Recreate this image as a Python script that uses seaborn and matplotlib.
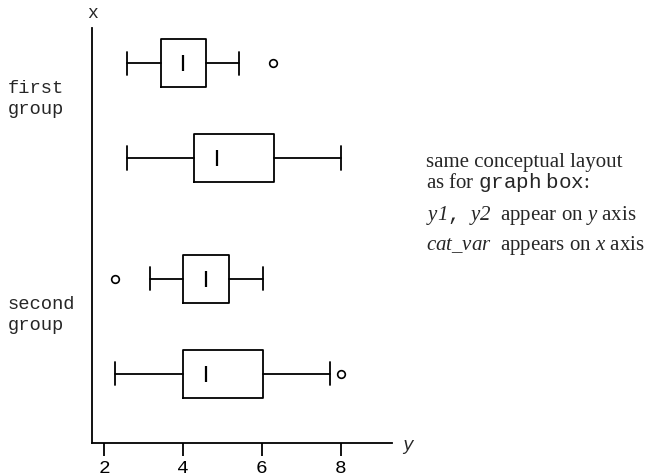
import matplotlib.pyplot as plt
import seaborn as sns


# groups on the categorical axis, two variables per group (y1 above y2)
groups = ["first\ngroup", "second\ngroup"]
variables = ["y1", "y2"]

# five-number summaries: [group][variable]
whislo = [[2.58, 2.58], [3.15, 2.27]]
q1 = [[3.44, 4.29], [4.00, 4.00]]
med = [[3.99, 4.87], [4.57, 4.57]]
q3 = [[4.57, 6.31], [5.16, 6.02]]
whishi = [[5.43, 8.00], [6.02, 7.72]]
fliers = [[[6.29], []], [[2.27], [8.00]]]

xticks = [2, 4, 6, 8]

note_lines = [
    "same conceptual layout",
    r"as for $\mathtt{graph\ box}$:",
    r"$y1\mathtt{,}\ \ y2$  appear on $y$ axis",
    r"$cat\_var$  appears on $x$ axis",
]

sns.set_style("ticks")
plt.rcParams['font.family'] = ['Liberation Serif', 'DejaVu Serif']
plt.rcParams['mathtext.fontset'] = 'custom'
# digits inside math use 'rm', so make it italic to get an italic y1, y2
plt.rcParams['mathtext.rm'] = 'Liberation Serif:italic'
plt.rcParams['mathtext.it'] = 'Liberation Serif:italic'
plt.rcParams['mathtext.tt'] = 'Liberation Mono'

fig = plt.figure(figsize=(6.5, 4.74), dpi=100)
ax = fig.add_axes([92 / 650, 31 / 474, 300 / 650, 415 / 474])

# layout of the categorical axis (bottom-up)
group_centers = [3.5, 1.23]
offsets = [0.5, -0.5]

stats = []
positions = []
for g in range(len(groups)):
    for v in range(len(variables)):
        stats.append({
            "label": variables[v],
            "whislo": whislo[g][v],
            "q1": q1[g][v],
            "med": med[g][v],
            "q3": q3[g][v],
            "whishi": whishi[g][v],
            "fliers": fliers[g][v],
        })
        positions.append(group_centers[g] + offsets[v])

lw = 1.3
ax.bxp(stats, positions=positions, orientation='horizontal',
       widths=0.505, capwidths=0.245, manage_ticks=False,
       boxprops=dict(color='black', linewidth=lw),
       whiskerprops=dict(color='black', linewidth=lw),
       capprops=dict(color='black', linewidth=lw),
       medianprops=dict(visible=False),
       flierprops=dict(marker='o', markersize=5.5, markerfacecolor='none',
                       markeredgecolor='black', markeredgewidth=1.2))

# Stata-style median: a short tick inside the box
for s, p in zip(stats, positions):
    ax.plot([s["med"]], [p], marker='|', markersize=12, markeredgewidth=1.6,
            color='black', linestyle='none')

ax.set_xlim(1.69, 9.30)
ax.set_ylim(0, 4.37)
ax.set_xticks(xticks)
ax.set_yticks([])
sns.despine(ax=ax)
for side in ['left', 'bottom']:
    ax.spines[side].set_linewidth(lw)
    ax.spines[side].set_color('black')
ax.tick_params(axis='x', length=9, width=lw, pad=3, labelsize=14,
               colors='black')
for lab in ax.get_xticklabels():
    lab.set_family('Liberation Mono')

# group labels, left edge of the figure
for g, name in enumerate(groups):
    yd = ax.transData.transform((0, group_centers[g] + 0.12))[1]
    fig.text(8 / 650, yd / fig.bbox.height, name, family='Liberation Mono',
             fontsize=13.5, ha='left', va='center', linespacing=1.35)

# axis titles
fig.text(93 / 650, 1 - 14 / 474, "x", family='Liberation Mono',
         fontsize=13, ha='center', va='center')
fig.text(408 / 650, 1 - 450 / 474, "y", family='Liberation Mono',
         style='italic', fontsize=13, ha='center', va='baseline')

# note on the right
baselines = [167, 188, 220, 250]
for line, b in zip(note_lines, baselines):
    fig.text(426 / 650, 1 - b / 474, line, fontsize=15, ha='left',
             va='baseline')

fig.savefig("out.png", dpi=100)
